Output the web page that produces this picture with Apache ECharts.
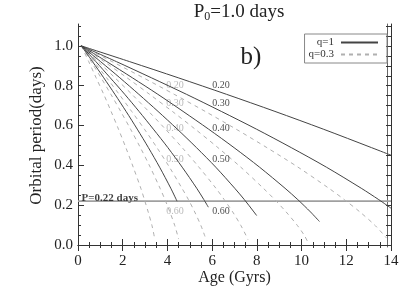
<!DOCTYPE html>
<html><head><meta charset="utf-8">
<script src="https://cdn.jsdelivr.net/npm/echarts@6/dist/echarts.min.js"></script>
<style>html,body{margin:0;padding:0;background:#fff}#c{width:415px;height:297px}</style>
</head><body><div id="c"></div>
<script>
// ---- data ----
const yTickLabels = [0, 0.2, 0.4, 0.6, 0.8, 1.0];
const yMinorTicks = [0,0.05,0.1,0.15,0.2,0.25,0.3,0.35,0.4,0.45,0.5,0.55,0.6,0.65,0.7,0.75,0.8,0.85,0.9,0.95,1.0,1.05,1.1];
// q = 1 tracks (solid)
const solidCurves = [
  [[0.15,1.0],[2.31,0.921],[4.48,0.840],[6.64,0.757],[8.81,0.671],[10.97,0.582],[13.13,0.489],[14.0,0.451]],
  [[0.15,1.0],[1.72,0.921],[3.28,0.840],[4.85,0.757],[6.41,0.671],[7.98,0.582],[9.54,0.489],[11.11,0.391],[12.67,0.285],[13.45,0.228],[14.0,0.185]],
  [[0.15,1.0],[1.29,0.921],[2.43,0.840],[3.57,0.757],[4.70,0.671],[5.84,0.582],[6.98,0.489],[8.12,0.391],[9.26,0.285],[9.83,0.228],[10.40,0.166],[10.8,0.118]],
  [[0.15,1.0],[1.01,0.921],[1.87,0.840],[2.72,0.757],[3.58,0.671],[4.44,0.582],[5.30,0.489],[6.16,0.391],[7.01,0.285],[7.44,0.228],[7.87,0.166],[7.99,0.148]],
  [[0.15,1.0],[0.80,0.921],[1.44,0.840],[2.09,0.757],[2.73,0.671],[3.37,0.582],[4.02,0.489],[4.66,0.391],[5.31,0.285],[5.63,0.228],[5.83,0.190]],
  [[0.15,1.0],[0.65,0.921],[1.15,0.840],[1.65,0.757],[2.15,0.671],[2.65,0.582],[3.15,0.489],[3.65,0.391],[4.15,0.285],[4.43,0.220]]
];
// q = 0.3 tracks (dashed)
const dashedCurves = [
  [[0.15,1.0],[1.53,0.921],[2.92,0.840],[4.30,0.757],[5.69,0.671],[7.07,0.582],[8.45,0.489],[9.84,0.391],[11.22,0.285],[11.91,0.228],[12.61,0.166],[13.30,0.097],[13.80,0.035]],
  [[0.15,1.0],[1.17,0.921],[2.19,0.840],[3.20,0.757],[4.22,0.671],[5.24,0.582],[6.26,0.489],[7.28,0.391],[8.29,0.285],[8.80,0.228],[9.31,0.166],[9.82,0.097],[10.13,0.047],[10.30,0.010]],
  [[0.15,1.0],[0.90,0.921],[1.65,0.840],[2.41,0.757],[3.16,0.671],[3.91,0.582],[4.66,0.489],[5.41,0.391],[6.17,0.285],[6.54,0.228],[6.92,0.166],[7.29,0.097],[7.52,0.047],[7.60,0.027]],
  [[0.15,1.0],[0.71,0.921],[1.28,0.840],[1.84,0.757],[2.40,0.671],[2.97,0.582],[3.53,0.489],[4.09,0.391],[4.65,0.285],[4.94,0.228],[5.22,0.166],[5.50,0.097],[5.68,0.043]],
  [[0.15,1.0],[0.59,0.921],[1.03,0.840],[1.47,0.757],[1.91,0.671],[2.35,0.582],[2.79,0.489],[3.23,0.391],[3.67,0.285],[3.89,0.228],[4.11,0.166],[4.33,0.097],[4.50,0.030]],
  [[0.15,1.0],[0.48,0.921],[0.81,0.840],[1.15,0.757],[1.48,0.671],[1.81,0.582],[2.14,0.489],[2.47,0.391],[2.81,0.285],[2.97,0.228],[3.14,0.166],[3.31,0.097],[3.44,0.027]]
];
const curveLabelNames = ['0.20','0.30','0.40','0.50','0.60'];
const curveLabelP = [0.80, 0.71, 0.585, 0.43, 0.17];
const solidLabelAge = 6.0;
const dashedLabelAge = 3.95;
const pCut = 0.22;
const pCutText = 'P=0.22 days';

// ---- chart ----
const FONT = 'Liberation Serif';
const AX = '#333';
const chart = echarts.init(document.getElementById('c'), null, {renderer:'canvas'});
const series = [];
dashedCurves.forEach(c => series.push({
  type:'line', name:'q=0.3', data:c, symbol:'none', smooth:0.3, z:2, silent:true,
  lineStyle:{color:'#b0b0b0', width:1, type:[4,4]}, itemStyle:{color:'#b0b0b0'}
}));
solidCurves.forEach(c => series.push({
  type:'line', name:'q=1', data:c, symbol:'none', smooth:0.3, z:3, silent:true,
  lineStyle:{color:'#444', width:1}, itemStyle:{color:'#444'}
}));
series.push({
  type:'line', data:[[0,pCut],[14,pCut]], symbol:'none', z:1, silent:true,
  lineStyle:{color:'#a0a0a0', width:1.8}
});
series.push({
  type:'scatter', data:[[0.16, pCut+0.016]], symbolSize:0, silent:true,
  label:{show:true, position:'right', distance:0, formatter:pCutText,
    fontFamily:FONT, fontSize:11, fontWeight:'bold', color:'#111'}
});
series.push({
  type:'scatter', symbolSize:0, silent:true,
  data: curveLabelNames.map((n,i)=>({value:[solidLabelAge, curveLabelP[i]], name:n})),
  label:{show:true, position:'right', distance:0, formatter:p=>p.name,
    fontFamily:FONT, fontSize:10, color:'#222'}
});
series.push({
  type:'scatter', symbolSize:0, silent:true,
  data: curveLabelNames.map((n,i)=>({value:[dashedLabelAge, curveLabelP[i]], name:n})),
  label:{show:true, position:'right', distance:0, formatter:p=>p.name,
    fontFamily:FONT, fontSize:10, color:'#aaa'}
});

const xBase = {
  type:'value', min:0, max:14, interval:2,
  axisLine:{show:true, lineStyle:{color:AX, width:1}},
  axisTick:{show:true, inside:true, length:6, lineStyle:{color:AX}},
  minorTick:{show:true, splitNumber:4, length:3, lineStyle:{color:AX}},
  splitLine:{show:false}
};
const yBase = {
  type:'value', min:-0.01, max:1.11, splitLine:{show:false}
};
const option = {
  animation:false,
  backgroundColor:'#fff',
  title:[
    {text:'{a|P}{b|0}{a|=1.0 days}', left:234, top:-3, textAlign:'center',
     textStyle:{rich:{a:{fontFamily:FONT, fontSize:19, fontWeight:'normal', color:'#222'},
                      b:{fontFamily:FONT, fontSize:12, fontWeight:'normal', color:'#222', verticalAlign:'bottom', padding:[9,0,0,0]}}}},
    {text:'b)', left:246, top:40, textAlign:'center',
     textStyle:{fontFamily:FONT, fontSize:25, fontWeight:'normal', color:'#222'}}
  ],
  legend:{
    data:['q=1','q=0.3'], orient:'vertical', right:28, top:34, align:'right',
    itemWidth:37, itemHeight:8, itemGap:1, padding:[3,8,3,4],
    borderColor:'#888', borderWidth:1, borderRadius:0,
    itemStyle:{opacity:0},
    textStyle:{fontFamily:FONT, fontSize:11, color:'#333', width:28, align:'right', padding:[0,2,0,0]}
  },
  grid:{left:78, right:24, top:24, bottom:50},
  xAxis:[
    Object.assign({}, xBase, {position:'bottom',
      axisLabel:{fontFamily:FONT, fontSize:15, color:'#222', margin:7},
      name:'Age (Gyrs)', nameLocation:'middle', nameGap:23, nameMoveOverlap:false,
      nameTextStyle:{fontFamily:FONT, fontSize:16, color:'#222'}}),
    Object.assign({}, xBase, {position:'top', axisLabel:{show:false}})
  ],
  yAxis:[
    Object.assign({}, yBase, {position:'left',
      axisLine:{show:true, lineStyle:{color:AX, width:1}},
      axisTick:{show:true, inside:true, length:6, customValues:yTickLabels, lineStyle:{color:AX}},
      axisLabel:{customValues:yTickLabels, formatter:v=>v.toFixed(1),
        fontFamily:FONT, fontSize:15, color:'#222', margin:5},
      name:'Orbital period(days)', nameLocation:'middle', nameGap:33, nameMoveOverlap:false,
      nameTextStyle:{fontFamily:FONT, fontSize:17, color:'#222'}}),
    Object.assign({}, yBase, {position:'left', axisLine:{show:false},
      axisTick:{show:true, inside:true, length:3, customValues:yMinorTicks, lineStyle:{color:AX}},
      axisLabel:{show:false}}),
    Object.assign({}, yBase, {position:'right',
      axisLine:{show:true, lineStyle:{color:AX, width:1}},
      axisTick:{show:true, inside:true, length:5, customValues:yMinorTicks, lineStyle:{color:AX}},
      axisLabel:{show:false}}),
    Object.assign({}, yBase, {position:'right', offset:-4,
      axisLine:{show:true, lineStyle:{color:'#666', width:1}},
      axisTick:{show:false}, axisLabel:{show:false}})
  ],
  series: series
};
chart.setOption(option);
</script>
</body></html>
